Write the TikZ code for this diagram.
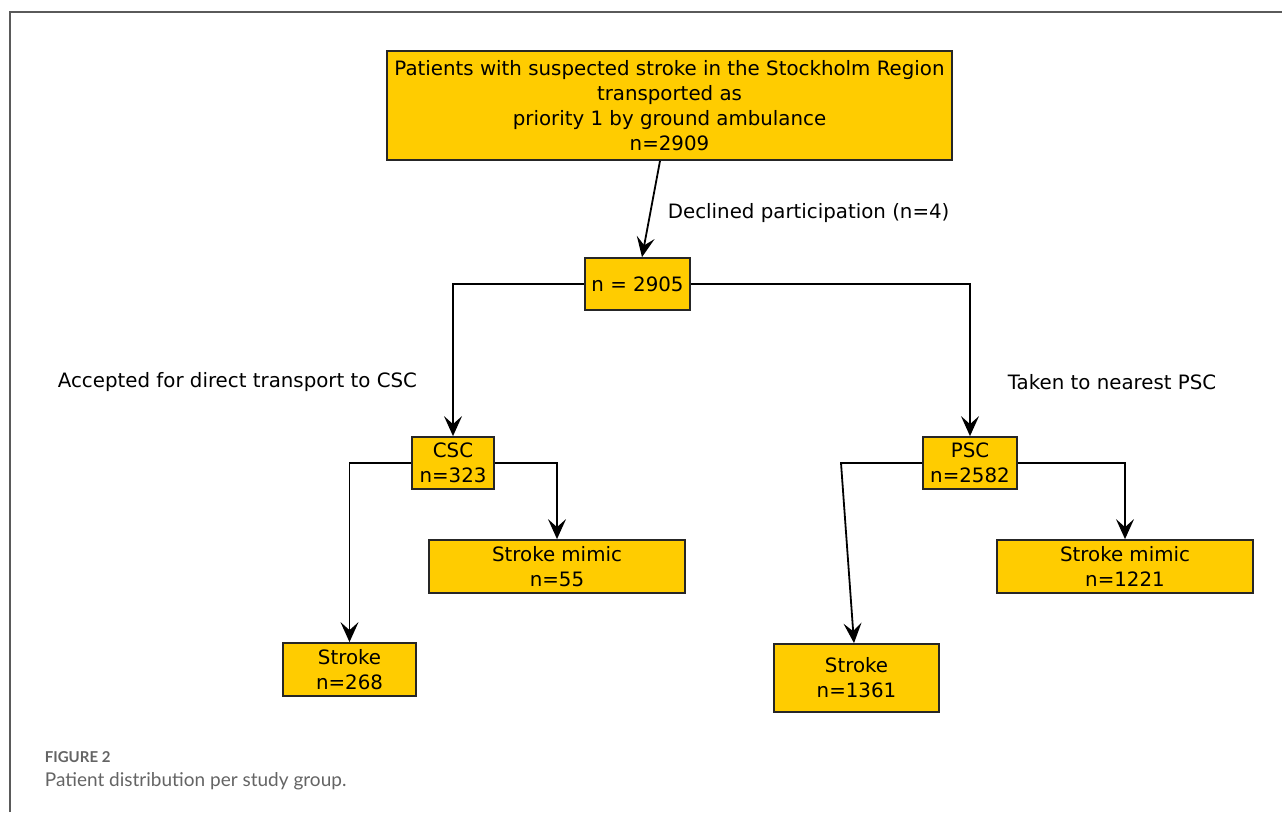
\documentclass[tikz,border=0pt]{standalone}
\usepackage{fontspec}
\setmainfont{DejaVu Sans}
\newfontfamily\capfont{Lato}
\usetikzlibrary{arrows.meta}
\definecolor{boxfill}{RGB}{255,204,0}
\definecolor{framegray}{RGB}{90,90,90}
\definecolor{capgray}{RGB}{100,100,100}

\tikzset{
  box/.style={draw=black!85, fill=boxfill, line width=1.8pt, inner sep=0pt,
    align=center, font=\fontsize{19.8}{25}\selectfont},
  lbl/.style={anchor=west, inner sep=0pt, font=\fontsize{19.8}{25}\selectfont},
}

\begin{document}
\begin{tikzpicture}[x=1pt, y=-1pt, >={Stealth[length=20pt,width=18pt,inset=8pt]},
    line width=1.8pt]

    \useasboundingbox (0,0) rectangle (1282,812);
    \draw[framegray, line width=1.6pt] (10,812) -- (10,12) -- (1282,12);

    % boxes
    \node[box, minimum width=565pt, minimum height=109pt] (top) at (669.5,105.5)
        {Patients with suspected stroke in the Stockholm Region\\transported as\\priority 1 by ground ambulance\\n=2909};
    \node[box, minimum width=105pt, minimum height=52pt] (all) at (637.5,284) {n = 2905};
    \node[box, minimum width=82pt, minimum height=52pt] (csc) at (453,463) {CSC\\n=323};
    \node[box, minimum width=94pt, minimum height=52pt] (psc) at (970,463) {PSC\\n=2582};
    \node[box, minimum width=256pt, minimum height=53pt] (cscmimic) at (557,566.5) {Stroke mimic\\n=55};
    \node[box, minimum width=133pt, minimum height=53pt] (cscstroke) at (349.5,669.5) {Stroke\\n=268};
    \node[box, minimum width=256pt, minimum height=53pt] (pscmimic) at (1125,566.5) {Stroke mimic\\n=1221};
    \node[box, minimum width=165pt, minimum height=68pt] (pscstroke) at (856.5,678) {Stroke\\n=1361};

    % labels
    \node[lbl] (declined) at (667,213) {Declined participation (n=4)};
    \node[lbl] (accepted) at (57,382) {Accepted for direct transport to CSC};
    \node[lbl] (taken) at (1007,382) {Taken to nearest PSC};

    % connectors
    \coordinate (pscbend) at (841,463);
    \draw[->] ([xshift=-9.5pt]top.south) -- ([xshift=4.5pt]all.north);
    \draw[->] (all.west) -| (csc.north);
    \draw[->] (all.east) -| (psc.north);
    \draw[->] (csc.west) -| (cscstroke.north);
    \draw[->] (csc.east) -| (cscmimic.north);
    \draw[->] (psc.east) -| (pscmimic.north);
    \draw[->] (psc.west) -- (pscbend) -- ([xshift=-2.5pt]pscstroke.north);

    % caption
    \node[anchor=west, inner sep=0pt, text=capgray, font=\capfont\bfseries\fontsize{15}{17}\selectfont]
        (figno) at (44,757) {FIGURE 2};
    \node[anchor=west, inner sep=0pt, text=capgray, font=\capfont\fontsize{19}{23}\selectfont]
        (caption) at (44,781) {Patient distribution per study group.};
\end{tikzpicture}
\end{document}
